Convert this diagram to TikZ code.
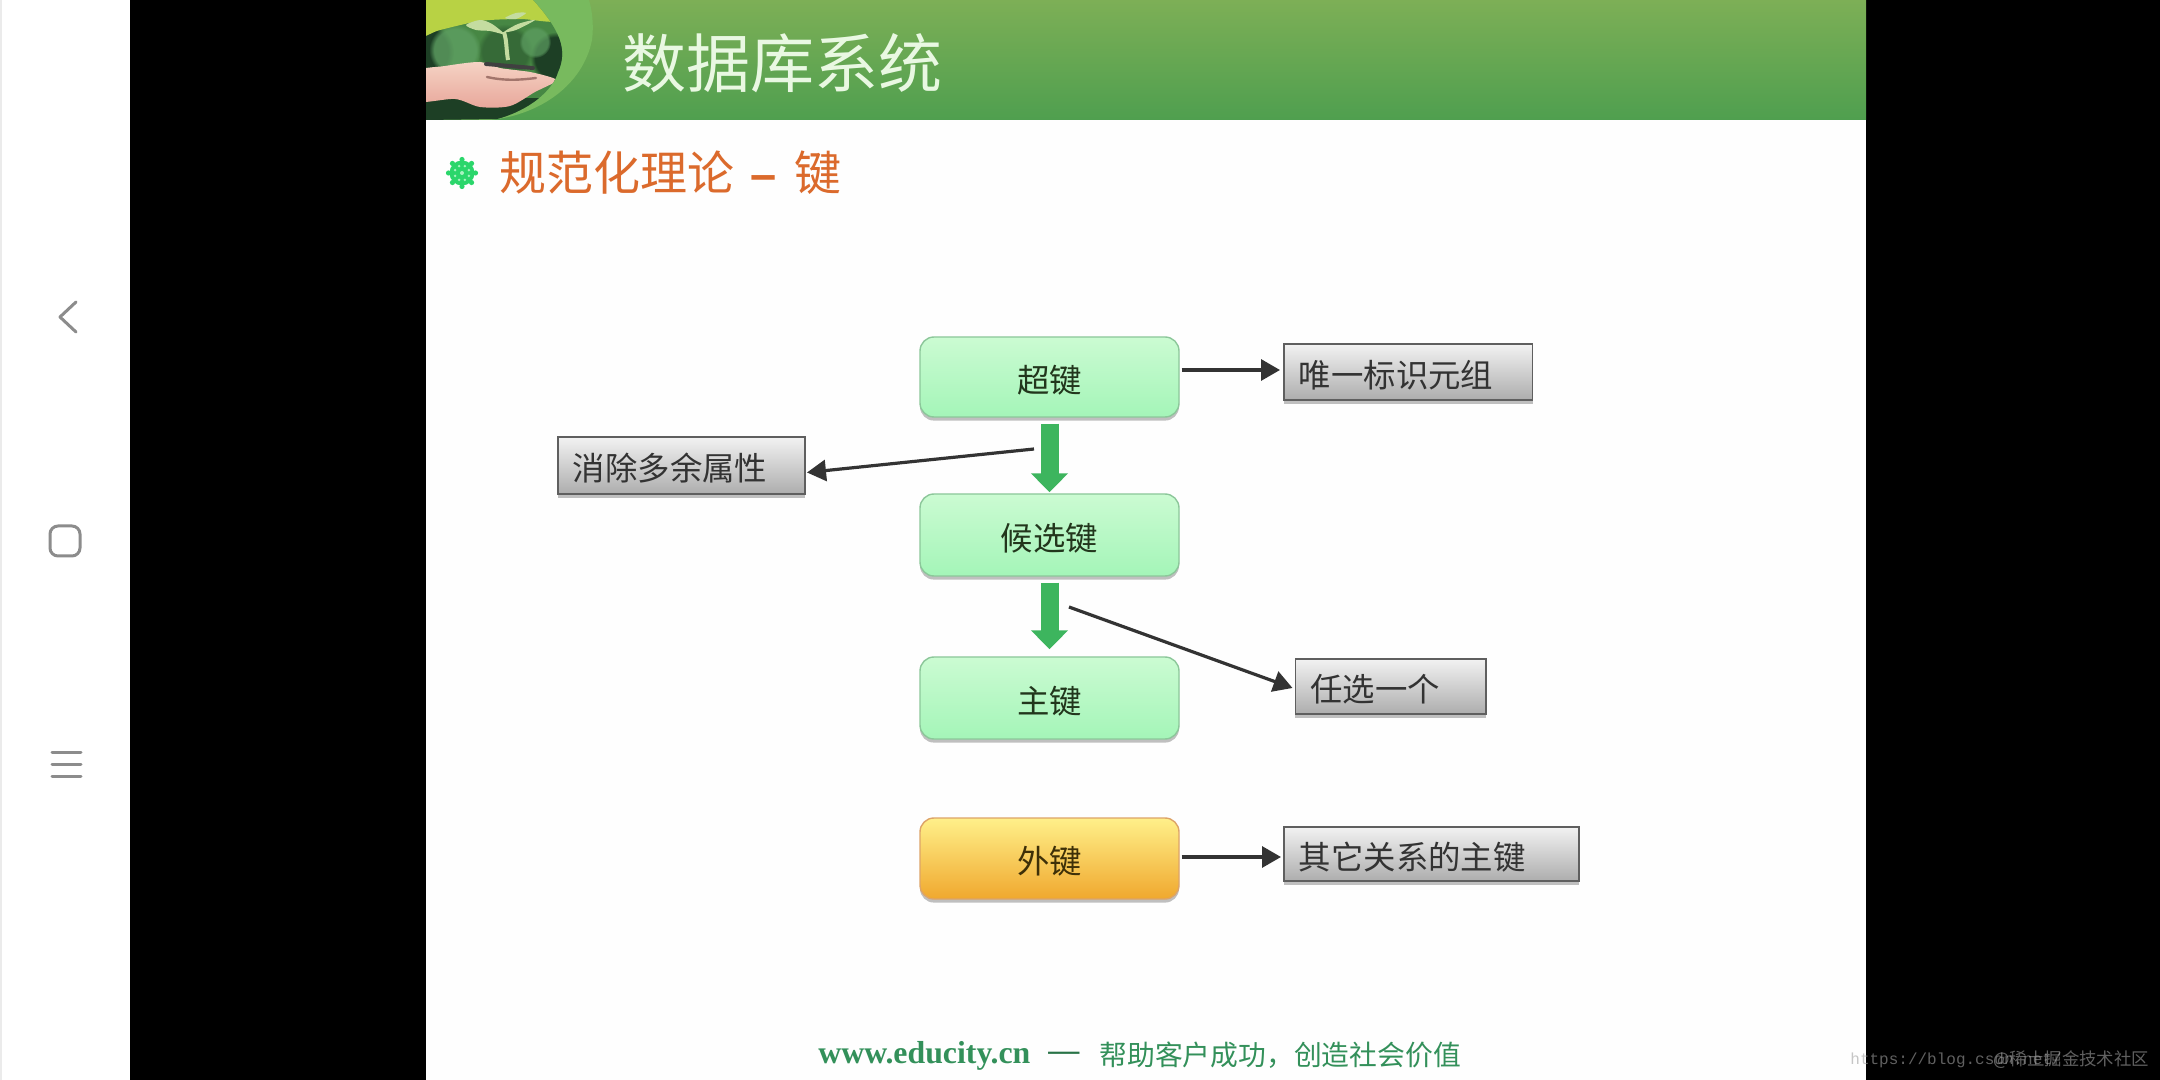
\documentclass[tikz,border=0pt]{standalone}
\usepackage{fontspec}
\setmainfont{Liberation Serif}
\newfontfamily\cjk{Noto Sans CJK SC}
\newfontfamily\lsans{Liberation Sans}
\setmonofont{Liberation Mono}
\usetikzlibrary{arrows.meta,shadows,calc,fadings}
\definecolor{slidebg}{HTML}{FEFEFE}
\definecolor{navgray}{HTML}{8C8C8C}
\definecolor{thinarrow}{HTML}{333333}
\definecolor{bigarrowc}{HTML}{3DB55E}
\definecolor{titleor}{HTML}{DB6A2C}
\definecolor{footg}{HTML}{33905A}
\definecolor{gkb}{HTML}{8CC79A}
\definecolor{gkt}{HTML}{CBFBD2}
\definecolor{gkm}{HTML}{BFF9C9}
\definecolor{gkbt}{HTML}{A4F5B8}
\definecolor{gktx}{HTML}{22361C}
\definecolor{okb}{HTML}{DDA468}
\definecolor{okt}{HTML}{FFF08A}
\definecolor{okm}{HTML}{FBD55A}
\definecolor{okbt}{HTML}{F0A82E}
\definecolor{oktx}{HTML}{3E3008}
\definecolor{gyb}{HTML}{5F5F5F}
\definecolor{gyt}{HTML}{F2F2F2}
\definecolor{gybt}{HTML}{ADADAD}
\definecolor{hdtop}{HTML}{7DAF56}
\definecolor{hdbot}{HTML}{4F9F4F}
\definecolor{ring}{HTML}{78BA5E}
\definecolor{wheel}{HTML}{2BD66B}
\definecolor{wheeld}{HTML}{A8F2C0}
\definecolor{leaf}{HTML}{C4DCA0}
\definecolor{phyel}{HTML}{B8D244}
\definecolor{phmid}{HTML}{4E9449}
\definecolor{phdark}{HTML}{1D3F25}
\definecolor{phblob}{HTML}{5E9F62}
\definecolor{hand}{HTML}{F5D3C4}
\definecolor{handl}{HTML}{E8A79B}
\definecolor{headtx}{HTML}{E9F8E2}
\tikzset{
  x=0.5pt,y=-0.5pt,
  softshadow/.style={drop shadow={shadow xshift=0pt,shadow yshift=-1.8pt,opacity=.45,fill=black!55}},
  keybox/.style={rounded corners=7pt,minimum width=129.5pt,inner sep=0pt,line width=.7pt,softshadow,
     font=\cjk\fontsize{16.2}{16.2}\selectfont},
  greenkey/.style={keybox,minimum height=40pt,draw=gkb,top color=gkt,middle color=gkm,bottom color=gkbt,text=gktx},
  orangekey/.style={keybox,draw=okb,top color=okt,middle color=okm,bottom color=okbt,text=oktx,minimum height=40.5pt},
  greybox/.style={anchor=west,draw=gyb,line width=.9pt,top color=gyt,bottom color=gybt,softshadow,
     font=\cjk\fontsize{16.2}{16.2}\selectfont,text=black!80,inner xsep=7.5pt,inner ysep=0pt,align=left},
  thin arrow/.style={draw=thinarrow,line width=1.6pt,-{Triangle[length=9.5pt,width=10.5pt]}},
  big arrow/.style={draw=bigarrowc,line width=9pt,-{Triangle[length=9.5pt,width=18pt,fill=bigarrowc]}},
  nav/.style={draw=navgray,line width=1.5pt,line cap=round,line join=round},
  wm/.style={anchor=west,inner sep=0pt,opacity=.6,text=black!37},
  blob/.style={path fading=circle with fuzzy edge 20 percent}
}
\newcommand{\lowtxt}[1]{\raisebox{-1.4pt}[\height][\depth]{#1}}
\begin{document}
\begin{tikzpicture}
\useasboundingbox (0,0) rectangle (2160,1080);
% screen
\fill[white] (0,0) rectangle (2160,1080);
\fill[black!8] (0,0) rectangle (2,1080);
\fill[black] (130,0) rectangle (2160,1080);
\fill[slidebg] (426,0) rectangle (1866,1080);
% nav bar
\draw[nav] (76,302) -- (60,317) -- (76,332);
\draw[nav,rounded corners=4pt] (50,526) rectangle (80,556);
\draw[nav] (52,752) -- (81,752);
\draw[nav] (52,764) -- (81,764);
\draw[nav] (52,776) -- (81,776);
% header band
\shade[top color=hdtop,bottom color=hdbot] (426,0) rectangle (1866,120);
\fill[ring] (426,120) -- (490,120) .. controls (540,115) and (583,85) .. (592,40) .. controls (594,25) and (592,10) .. (589,0) -- (426,0) -- cycle;
\begin{scope}
\clip (426,120) -- (497,119) .. controls (530,110) and (553,90) .. (558,72) .. controls (568,50) and (560,30) .. (533,0) -- (426,0) -- cycle;
\fill[phmid!85!phdark] (426,0) rectangle (570,120);
\fill[phdark,blob] (424,52) circle (30);
\fill[phdark,blob] (556,58) circle (26);
\fill[phdark!50!phmid,blob] (505,52) circle (28);
\fill[phblob,blob,opacity=.8] (455,50) circle (26);
\fill[phblob,blob,opacity=.7] (535,42) circle (16);
\fill[phyel] plot[smooth cycle] coordinates {(415,-15) (550,-15) (560,20) (520,19) (480,21) (440,30) (415,36)};
% hand
\fill[phdark] (420,98) rectangle (570,125);
\shade[top color=hand,bottom color=handl] plot[smooth cycle] coordinates {(415,72) (445,66) (480,62) (500,68) (530,72) (553,78) (555,82) (535,92) (510,106) (480,107) (455,99) (415,101)};
\draw[black!75,line width=2pt,line cap=round] (486,64) -- (533,68);
\draw[handl!70!black,line width=1.2pt,line cap=round] (487,77) .. controls (505,81) and (520,80) .. (536,78);
% plant
\draw[leaf,line width=2pt] (508,60) .. controls (506,48) and (507,42) .. (504,32);
\fill[leaf] plot[smooth cycle] coordinates {(466,25) (480,20) (492,24) (504,34) (490,31) (476,30)};
\fill[leaf] plot[smooth cycle] coordinates {(504,32) (518,24) (535,20) (516,30)};
\fill[leaf] plot[smooth cycle] coordinates {(505,18) (516,13) (526,13) (516,19)};
\end{scope}
\node[anchor=center,inner sep=0pt,text=headtx,font=\cjk\fontsize{32}{32}\selectfont] (head) at (782,63) {数据库系统};
% title
\begin{scope}[shift={(462,173)}]
\fill[wheel] (0,0) circle (12.5);
\foreach \a in {0,45,...,315} {
  \fill[wheel] (\a:13.5) circle (2.6);
  \fill[wheeld] (\a+22.5:7.5) circle (1.4);
}
\fill[wheeld] (0,0) circle (2);
\end{scope}
\node[anchor=west,inner sep=0pt,text=titleor,font=\cjk\fontsize{23.5}{23.5}\selectfont] (title) at (499,172.5) {规范化理论\hspace{8pt}{\lsans\bfseries –}\hspace{9pt}键};
% key nodes
\node[greenkey] (super) at (1049.5,377) {\lowtxt{超键}};
\node[greenkey,minimum height=41pt] (cand) at (1049.5,535) {\lowtxt{候选键}};
\node[greenkey,minimum height=41pt] (pk) at (1049.5,698) {\lowtxt{主键}};
\node[orangekey] (fk) at (1049.5,858.5) {\lowtxt{外键}};
% note boxes
\node[greybox,text width=109.3pt,minimum height=28pt] (unique) at (1283,372) {\lowtxt{唯一标识元组}};
\node[greybox,text width=108.6pt,minimum height=28.5pt] (elim) at (557,465.5) {\lowtxt{消除多余属性}};
\node[greybox,text width=80.35pt,minimum height=27.5pt] (anyone) at (1294.5,686.5) {\lowtxt{任选一个}};
\node[greybox,text width=132.5pt,minimum height=27pt] (other) at (1283,854) {\lowtxt{其它关系的主键}};
% connectors
\draw[big arrow,shorten <=3pt,shorten >=.5pt] (super.south) -- (cand.north);
\draw[big arrow,shorten <=3pt,shorten >=3.5pt] (cand.south) -- (cand.south |- pk.north);
\coordinate (elimstart) at (1034,449);
\coordinate (anystart) at (1069,607);
\draw[thin arrow] ($(super.east)+(2,-7)$) -- ($(unique.west)+(-3,-2)$);
\draw[thin arrow] (elimstart) -- ($(elim.east)+(1,7)$);
\draw[thin arrow] (anystart) -- ($(anyone.west)+(-2,1.5)$);
\draw[thin arrow] ($(fk.east)+(2,-1.5)$) -- ($(other.west)+(-2,3)$);
% footer
\node[anchor=west,inner sep=0pt,text=footg,font=\bfseries\fontsize{15.9}{15.9}\selectfont] (site) at (818,1056) {www.educity.cn};
\node[anchor=west,inner sep=0pt,text=footg!80!black,font=\bfseries\fontsize{15.5}{15.5}\selectfont] (dash) at (1048,1056) {—};
\node[anchor=west,inner sep=0pt,text=footg,font=\cjk\fontsize{13.9}{13.9}\selectfont] (slogan) at (1099,1055) {帮助客户成功，创造社会价值};
% watermark
\node[wm,font=\ttfamily\fontsize{8}{8}\selectfont] (wmurl) at (1850,1060) {https://blog.csdn.net/};
\node[wm,font=\cjk\fontsize{8.7}{8.7}\selectfont] (wmname) at (1993,1060) {@稀土掘金技术社区};
\end{tikzpicture}
\end{document}
